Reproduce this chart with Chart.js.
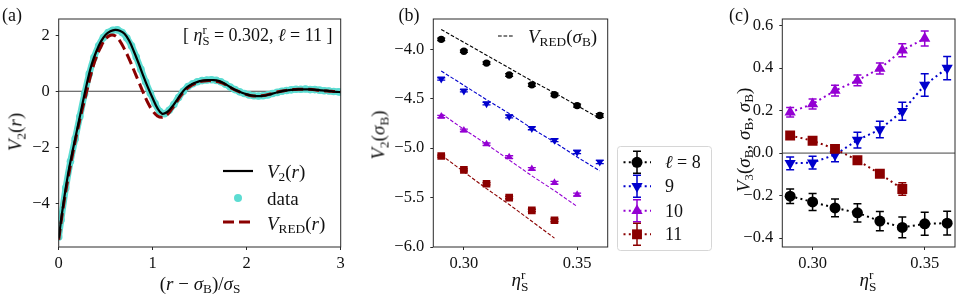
<!DOCTYPE html>
<html><head><meta charset="utf-8">
<script src="https://cdn.jsdelivr.net/npm/chart.js@4.4.1/dist/chart.umd.min.js"></script>
<style>
html,body{margin:0;padding:0;background:#fff;}
#fig{position:relative;width:962px;height:294px;overflow:hidden;background:#fff;font-family:"Liberation Serif","DejaVu Serif",serif;color:#111;}
canvas{position:absolute;top:0;}
.t{position:absolute;white-space:nowrap;font-size:16.5px;line-height:1;}
.m{font-size:19px;}
.l{font-size:18px;}
.t sub{font-size:0.7em;vertical-align:-0.3em;line-height:0;}
.ss{display:inline-block;font-size:0.7em;line-height:0.9;vertical-align:-0.35em;}
</style></head><body><div id="fig">
<canvas id="cA" width="350" height="294" style="left:0px"></canvas>
<canvas id="cB" width="265" height="294" style="left:350px"></canvas>
<canvas id="cC" width="347" height="294" style="left:615px"></canvas>
</div>
<script>
// ---------- Panel (a) data ----------
const rGrid = [0,0.05,0.1,0.15,0.2,0.25,0.3,0.35,0.4,0.45,0.5,0.55,0.6,0.65,0.7,0.75,0.8,0.85,0.9,0.95,1,1.05,1.1,1.15,1.2,1.25,1.3,1.35,1.4,1.45,1.5,1.55,1.6,1.65,1.7,1.75,1.8,1.85,1.9,1.95,2,2.05,2.1,2.15,2.2,2.25,2.3,2.35,2.4,2.45,2.5,2.55,2.6,2.65,2.7,2.75,2.8,2.85,2.9,2.95,3];
const v2Curve = [-5.25,-4.0,-2.95,-2.1,-1.3,-0.5,0.28,0.95,1.42,1.78,2.02,2.14,2.19,2.16,2.05,1.8,1.42,1.0,0.55,0.13,-0.25,-0.6,-0.8,-0.75,-0.58,-0.35,-0.1,0.1,0.22,0.3,0.36,0.39,0.40,0.40,0.37,0.3,0.2,0.1,0.02,-0.05,-0.11,-0.15,-0.17,-0.17,-0.15,-0.11,-0.06,-0.02,0.02,0.04,0.06,0.07,0.07,0.07,0.06,0.05,0.03,0.02,0.0,-0.02,-0.03];
const vRedCurve = [-5.3,-4.1,-3.1,-2.2,-1.4,-0.65,0.02,0.7,1.22,1.6,1.87,2.0,1.98,1.8,1.5,1.15,0.75,0.35,-0.05,-0.42,-0.7,-0.88,-0.93,-0.85,-0.65,-0.4,-0.15,0.05,0.18,0.27,0.34,0.37,0.38,0.37,0.34,0.28,0.19,0.09,0.01,-0.06,-0.12,-0.16,-0.17,-0.16,-0.14,-0.1,-0.05,-0.01,0.02,0.05,0.06,0.07,0.07,0.07,0.06,0.04,0.03,0.01,0.0,-0.01,-0.02];
const rData = [0,0.025,0.075,0.125,0.175,0.225,0.275,0.325,0.375,0.425,0.475,0.525,0.575,0.625,0.675,0.725,0.775,0.825,0.875,0.925,0.975,1.025,1.075,1.125,1.175,1.225,1.275,1.325,1.375,1.425,1.475,1.525,1.575,1.625,1.675,1.725,1.775,1.825,1.875,1.925,1.975,2.025,2.075,2.125,2.175,2.225,2.275,2.325,2.375,2.425,2.475,2.525,2.575,2.625,2.675,2.725,2.775,2.825,2.875,2.925,2.975,3];
const v2Data = [-5.2,-4.6,-3.45,-2.5,-1.7,-0.9,-0.1,0.62,1.2,1.62,1.92,2.1,2.18,2.19,2.1,1.9,1.62,1.22,0.78,0.33,-0.07,-0.44,-0.72,-0.8,-0.68,-0.47,-0.22,0.0,0.17,0.27,0.34,0.38,0.4,0.41,0.39,0.34,0.25,0.15,0.06,-0.02,-0.08,-0.13,-0.16,-0.17,-0.16,-0.13,-0.08,-0.04,0.0,0.03,0.05,0.07,0.07,0.08,0.06,0.06,0.04,0.02,0.01,-0.01,-0.02,-0.03];
const ticksAX = [0,1,2,3];
const ticksAY = [-4,-2,0,2];

// ---------- Panels (b),(c) data ----------
const etaS = [0.29,0.30,0.31,0.32,0.33,0.34,0.35,0.36];
const ticksEta = [0.30,0.35];
// (b) V2(sigma_B)
const v2B_l8  = [-3.90,-4.02,-4.14,-4.26,-4.36,-4.46,-4.57,-4.67];
const v2B_l9  = [-4.30,-4.42,-4.55,-4.68,-4.80,-4.92,-5.04,-5.14];
const v2B_l10 = [-4.68,-4.82,-4.96,-5.09,-5.21,-5.35,-5.47];
const v2B_l11 = [-5.08,-5.22,-5.36,-5.50,-5.63,-5.73];
const errB_l8  = [0.012,0.012,0.013,0.014,0.015,0.015,0.016,0.018];
const errB_l9  = [0.012,0.012,0.013,0.014,0.014,0.015,0.016,0.017];
const errB_l10 = [0.012,0.012,0.012,0.013,0.013,0.014,0.014];
const errB_l11 = [0.01,0.011,0.011,0.012,0.012,0.013];
const vRedB_l8  = [-3.80,-3.93,-4.06,-4.19,-4.32,-4.44,-4.57,-4.70];
const vRedB_l9  = [-4.22,-4.365,-4.51,-4.65,-4.80,-4.94,-5.09,-5.23];
const vRedB_l10 = [-4.65,-4.81,-4.96,-5.12,-5.28,-5.43,-5.59];
const vRedB_l11 = [-5.07,-5.24,-5.41,-5.57,-5.74,-5.91];
const ticksBY = [-6.0,-5.5,-5.0,-4.5,-4.0];
// (c) V3(sigma_B,sigma_B,sigma_B)
const v3_l8  = [-0.203,-0.23,-0.258,-0.281,-0.32,-0.35,-0.333,-0.33];
const v3_l9  = [-0.048,-0.045,-0.008,0.061,0.111,0.197,0.32,0.40];
const v3_l10 = [0.192,0.231,0.294,0.342,0.398,0.484,0.539];
const v3_l11 = [0.083,0.058,0.02,-0.034,-0.097,-0.169];
const err3_l8  = [0.034,0.04,0.042,0.043,0.045,0.049,0.054,0.056];
const err3_l9  = [0.03,0.03,0.033,0.037,0.039,0.042,0.053,0.055];
const err3_l10 = [0.022,0.024,0.025,0.025,0.026,0.031,0.035];
const err3_l11 = [0.01,0.01,0.012,0.012,0.012,0.029];
const ticksCY = [-0.4,-0.2,0.0,0.2,0.4,0.6];
const legendC = ['\u2113 = 8','9','10','11'];

// ---------- helpers ----------
const FONT = "'Liberation Serif','DejaVu Serif',serif";
const AXC = '#2a2a2a';
const COL = {k:'#000000', b:'#0000cd', p:'#9400d3', r:'#8b0000'};
const CYAN = '#5cdcd2';
const pts = (xs, ys) => ys.map((y,i)=>({x:xs[i], y}));
const minus = s => String(s).replace('-', '\u2212');

function scale(min, max, ticks, fmt, size, isX){
  return {type:'linear', min, max,
    afterBuildTicks: s => { s.ticks = ticks.map(v=>({value:v})); },
    afterFit: s => { if(isX) s.height = size; else s.width = size; },
    grid:{display:true, drawOnChartArea:false, drawTicks:true, tickLength:3, color:AXC, lineWidth:1},
    border:{display:false},
    ticks:{font:{family:FONT, size:16.5}, color:'#111', padding: isX?4:6, maxRotation:0, autoSkip:false,
      callback: v => fmt(v)}
  };
}
const framePlugin = {id:'frame', afterDatasetsDraw(chart){
  const {ctx, chartArea:a} = chart; ctx.save(); ctx.strokeStyle=AXC; ctx.lineWidth=1;
  ctx.strokeRect(a.left, a.top, a.right-a.left, a.bottom-a.top); ctx.restore(); }};
function zeroPlugin(){ return {id:'zero', beforeDatasetsDraw(chart){
  const {ctx, chartArea:a} = chart; const y = chart.scales.y.getPixelForValue(0);
  ctx.save(); ctx.strokeStyle='#444'; ctx.lineWidth=1; ctx.beginPath(); ctx.moveTo(a.left,y); ctx.lineTo(a.right,y); ctx.stroke(); ctx.restore(); }}; }
const errPlugin = {id:'errbars', beforeDatasetDraw(chart, args){
  const ds = chart.data.datasets[args.index]; if(!ds.yErr) return;
  const xs = chart.scales.x, ys = chart.scales.y, ctx = chart.ctx, c = ds.capHalf;
  ctx.save(); ctx.strokeStyle = ds.pointBackgroundColor; ctx.lineWidth = ds.errWidth; ctx.setLineDash([]);
  ds.data.forEach((p,i)=>{ const e = ds.yErr[i]; const px = xs.getPixelForValue(p.x);
    const y1 = ys.getPixelForValue(p.y-e), y2 = ys.getPixelForValue(p.y+e);
    ctx.beginPath(); ctx.moveTo(px,y1); ctx.lineTo(px,y2);
    ctx.moveTo(px-c,y1); ctx.lineTo(px+c,y1); ctx.moveTo(px-c,y2); ctx.lineTo(px+c,y2); ctx.stroke(); });
  ctx.restore(); }};
function marker(ctx, style, x, y, r, color, down){
  ctx.save(); ctx.fillStyle=color; ctx.beginPath();
  if(style==='circle'){ ctx.arc(x,y,r,0,Math.PI*2); }
  else if(style==='rect'){ const s=r*Math.SQRT1_2; ctx.rect(x-s,y-s,2*s,2*s); }
  else { const a0 = down?Math.PI:0; for(let k=0;k<3;k++){ const ang=a0+k*2*Math.PI/3; const px=x+Math.sin(ang)*r, py=y-Math.cos(ang)*r; if(k) ctx.lineTo(px,py); else ctx.moveTo(px,py);} ctx.closePath(); }
  ctx.fill(); ctx.restore();
}
const baseOpts = (pad, xs, ys) => ({responsive:false, animation:false, devicePixelRatio:1,
  layout:{padding:pad}, scales:{x:xs, y:ys},
  plugins:{legend:{display:false}, tooltip:{enabled:false}}});

// ---------- Chart (a) ----------
const legendA = {id:'legA', afterDraw(chart){
  const ctx = chart.ctx; ctx.save();
  ctx.strokeStyle='#000'; ctx.lineWidth=2.2; ctx.beginPath(); ctx.moveTo(223,171); ctx.lineTo(253,171); ctx.stroke();
  marker(ctx,'circle',238,198,4,CYAN);
  ctx.strokeStyle=COL.r; ctx.lineWidth=3; ctx.setLineDash([11,5]); ctx.beginPath(); ctx.moveTo(223,222); ctx.lineTo(254,222); ctx.stroke();
  ctx.restore(); }};
new Chart(document.getElementById('cA'), {type:'line',
  data:{datasets:[
    {label:'V2(r)', data:pts(rGrid,v2Curve), borderColor:'#000', borderWidth:2.2, pointRadius:0, tension:0.4, fill:false},
    {label:'VRED(r)', data:pts(rGrid,vRedCurve), borderColor:COL.r, borderWidth:3, borderDash:[11,5], pointRadius:0, tension:0.4, fill:false},
    {label:'data', data:pts(rData,v2Data), borderColor:CYAN, borderWidth:6.5, pointRadius:3.8, pointBackgroundColor:CYAN, pointBorderWidth:0, tension:0.4, fill:false}
  ]},
  options: baseOpts({left:8.7, right:9.3, top:19, bottom:0},
    scale(0,3,ticksAX,v=>minus(v),47,true),
    scale(-5.56,2.58,ticksAY,v=>minus(v),50,false)),
  plugins:[framePlugin, zeroPlugin(), legendA]
});

// ---------- Chart (b) ----------
function ptsSet(ys, err, color, style, r, down){
  return {data:pts(etaS,ys), showLine:false, pointStyle:style, pointRadius:r, pointRotation:down?180:0,
    pointBackgroundColor:color, borderColor:color, pointBorderWidth:0, yErr:err, capHalf:4, errWidth:1.3};
}
function redSet(ys, color){
  return {data:pts(etaS,ys), borderColor:color, borderWidth:1.1, borderDash:[3.7,1.8], pointRadius:0, tension:0, fill:false};
}
const legendB = {id:'legB', afterDraw(chart){
  const ctx = chart.ctx; ctx.save(); ctx.strokeStyle='#000'; ctx.lineWidth=1.1; ctx.setLineDash([3.7,1.8]);
  ctx.beginPath(); ctx.moveTo(148,36); ctx.lineTo(164,36); ctx.stroke(); ctx.restore(); }};
new Chart(document.getElementById('cB'), {type:'line',
  data:{datasets:[
    ptsSet(v2B_l8, errB_l8, COL.k, 'circle', 3.7, false),
    ptsSet(v2B_l9, errB_l9, COL.b, 'triangle', 4.6, true),
    ptsSet(v2B_l10, errB_l10, COL.p, 'triangle', 4.4, false),
    ptsSet(v2B_l11, errB_l11, COL.r, 'rect', 5.4, false),
    redSet(vRedB_l8, COL.k), redSet(vRedB_l9, COL.b), redSet(vRedB_l10, COL.p), redSet(vRedB_l11, COL.r)
  ]},
  options: baseOpts({left:23.3, right:7.3, top:19, bottom:0},
    scale(0.2865,0.3635,ticksEta,v=>v.toFixed(2),47,true),
    scale(-6.0,-3.694,ticksBY,v=>minus(v.toFixed(1)),60,false)),
  plugins:[framePlugin, errPlugin, legendB]
});

// ---------- Chart (c) ----------
function dotSet(ys, err, color, style, r, down, ord){
  return {data:pts(etaS,ys), borderColor:color, borderWidth:2, borderDash:[2,3.3], pointStyle:style, pointRadius:r,
    pointRotation:down?180:0, pointBackgroundColor:color, pointBorderWidth:0, tension:0, fill:false,
    yErr:err, capHalf:4, errWidth:1.5, order:ord};
}
const legC = [
  {c:COL.k, s:'circle', r:5.5, d:false, y:162.3},
  {c:COL.b, s:'triangle', r:6.5, d:true, y:186.3},
  {c:COL.p, s:'triangle', r:6.5, d:false, y:210.7},
  {c:COL.r, s:'rect', r:7, d:false, y:234.3}];
const legendCPlugin = {id:'legC', afterDraw(chart){
  const ctx = chart.ctx; ctx.save();
  ctx.beginPath(); ctx.roundRect(2.5,146.5,94,104,3); ctx.fillStyle='rgba(255,255,255,0.8)'; ctx.fill();
  ctx.strokeStyle='#d6d6d6'; ctx.lineWidth=1; ctx.stroke();
  legC.forEach(e=>{
    ctx.strokeStyle=e.c; ctx.lineWidth=2; ctx.setLineDash([2,3.3]); ctx.beginPath(); ctx.moveTo(8.5,e.y); ctx.lineTo(36,e.y); ctx.stroke();
    ctx.setLineDash([]); ctx.lineWidth=1.5; ctx.beginPath(); ctx.moveTo(22,e.y-11); ctx.lineTo(22,e.y+11);
    ctx.moveTo(18,e.y-11); ctx.lineTo(26,e.y-11); ctx.moveTo(18,e.y+11); ctx.lineTo(26,e.y+11); ctx.stroke();
    marker(ctx, e.s, 22, e.y, e.r, e.c, e.d);
  });
  ctx.restore(); }};
new Chart(document.getElementById('cC'), {type:'line',
  data:{datasets:[
    dotSet(v3_l8, err3_l8, COL.k, 'circle', 5.5, false, 4),
    dotSet(v3_l9, err3_l9, COL.b, 'triangle', 6.5, true, 3),
    dotSet(v3_l10, err3_l10, COL.p, 'triangle', 6.5, false, 2),
    dotSet(v3_l11, err3_l11, COL.r, 'rect', 7, false, 1)
  ]},
  options: baseOpts({left:107.3, right:7, top:19, bottom:0},
    scale(0.2865,0.3635,ticksEta,v=>v.toFixed(2),47,true),
    scale(-0.442,0.631,ticksCY,v=>minus(v.toFixed(1)),60,false)),
  plugins:[framePlugin, zeroPlugin(), errPlugin, legendCPlugin]
});

// ---------- text labels ----------
const fig = document.getElementById('fig');
function txt(html, x, y, mode, cls){
  const d = document.createElement('div'); d.className='t' + (cls ? ' '+cls : ''); d.innerHTML = html;
  d.style.left = x+'px'; d.style.top = y+'px';
  d.style.transform = mode==='rot' ? 'translate(-50%,-50%) rotate(-90deg)' : (mode==='c' ? 'translate(-50%,-50%)' : 'translate(0,-50%)');
  fig.appendChild(d);
}
const ETA = '<i>\u03b7</i><span class="ss">r<br>S</span>';
txt('(a)', 12, 15, 'c', 'l');
txt('(b)', 409, 15, 'c', 'l');
txt('(c)', 739, 15, 'c', 'l');
txt('[ '+ETA+' = 0.302, <i>\u2113</i> = 11 ]', 183, 36, 'l', 'l');
txt('<i>V</i><sub>2</sub>(<i>r</i>)', 15, 132, 'rot', 'm');
txt('(<i>r</i> \u2212 <i>\u03c3</i><sub>B</sub>)/<i>\u03c3</i><sub>S</sub>', 200, 283, 'c', 'm');
txt('<i>V</i><sub>2</sub>(<i>r</i>)', 267, 171, 'l', 'm');
txt('data', 267, 198, 'l', 'm');
txt('<i>V</i><sub>RED</sub>(<i>r</i>)', 267, 223, 'l', 'm');
txt('<i>V</i><sub>2</sub>(<i>\u03c3</i><sub>B</sub>)', 378, 135, 'rot', 'm');
txt(ETA, 520, 281, 'c', 'm');
txt('<i>V</i><sub>RED</sub>(<i>\u03c3</i><sub>B</sub>)', 528, 36, 'l', 'm');
txt('<i>V</i><sub>3</sub>(<i>\u03c3</i><sub>B</sub>, <i>\u03c3</i><sub>B</sub>, <i>\u03c3</i><sub>B</sub>)', 743, 140, 'rot', 'm');
txt(ETA, 868, 281, 'c', 'm');
const legRows = [162.3,186.3,210.7,234.3];
legendC.forEach((s,i)=> txt(s.replace('\u2113','<i>\u2113</i>'), 665, legRows[i], 'l', 'l'));
</script></body></html>
